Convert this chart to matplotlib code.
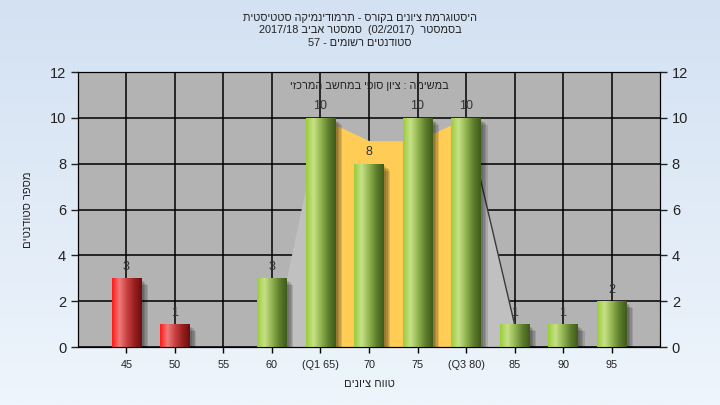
import numpy as np
import matplotlib
matplotlib.use('Agg')
import matplotlib.pyplot as plt
import matplotlib.patheffects as pe
from matplotlib.colors import LinearSegmentedColormap

plt.rcParams['font.family'] = ['Liberation Sans', 'DejaVu Sans']

# data (Hebrew strings stored in visual order, matplotlib has no bidi)
categories = ['45', '50', '55', '60', '(Q1 65)', '70', '75', '(Q3 80)', '85', '90', '95']
counts = [3, 1, 0, 3, 10, 8, 10, 10, 1, 1, 2]
passed = [False, False, False, True, True, True, True, True, True, True, True]
spread_idx = [3.3, 4, 5, 6, 7, 8]
spread_vals = [3, 10, 9, 9, 10, 1]
iqr_idx = [4, 5, 6, 7]
iqr_vals = [10, 9, 9, 10]

title_lines = [
    'תיטסיטטס הקימנידומרת - סרוקב םינויצ תמרגוטסיה',
    '2017/18 ביבא רטסמס  (02/2017)  רטסמסב',
    '57 - םימושר םיטנדוטס',
]
inner_title = 'יזכרמה בשחמב יפוס ןויצ : המישמב'
xlabel = 'םינויצ חווט'
ylabel = 'םיטנדוטס רפסמ'

green = LinearSegmentedColormap.from_list('g', ['#9ccb3b', '#c6e286', '#93b452', '#5f7f2c', '#3f5a1a'])
red = LinearSegmentedColormap.from_list('r', ['#ff1a1a', '#f07a7a', '#c84242', '#9a2020', '#6a0c0c'])


def main():
    fig = plt.figure(figsize=(7.2, 4.05), dpi=100)

    # soft blue background
    bg = fig.add_axes([0, 0, 1, 1], zorder=-10)
    bg.imshow(np.linspace(0, 1, 256).reshape(-1, 1), aspect='auto', extent=[0, 1, 0, 1],
              cmap=LinearSegmentedColormap.from_list('bg', ['#d3e1f2', '#eef5fc']))
    bg.axis('off')

    ax = fig.add_axes([0.1083, 0.1432, 0.8084, 0.679])
    ax.set_facecolor('#b3b3b3')
    x = np.arange(len(categories))

    ax.set_axisbelow(True)
    ax.grid(True, color='black', lw=1.1, zorder=0)

    ax.fill_between(spread_idx, spread_vals, color='#c0c0c0', lw=0, zorder=1)
    ax.plot(spread_idx[-2:], spread_vals[-2:], color='#3a3a3a', lw=1, zorder=1.2)
    ax.fill_between(iqr_idx, iqr_vals, color='#ffcc55', lw=0, zorder=1.5)

    shadow = [pe.SimplePatchShadow(offset=(o, -o), shadow_rgbFace='black', alpha=0.12) for o in (5, 4, 3, 2)]
    bars = ax.bar(x, counts, width=0.6, color='none', zorder=3,
                  path_effects=shadow + [pe.Normal()])
    grad = np.linspace(0, 1, 128).reshape(1, -1)
    for b, ok in zip(bars, passed):
        if b.get_height() == 0:
            continue
        im = ax.imshow(grad, cmap=green if ok else red, aspect='auto', zorder=3.5,
                       extent=[b.get_x(), b.get_x() + b.get_width(), 0, b.get_height()])
        im.set_clip_path(b)

    labels = [str(c) if c else '' for c in counts]
    ax.bar_label(bars, labels=labels, padding=4, fontsize=9, color='#333333', zorder=4)

    ax.set_xlim(-1, len(categories))
    ax.set_ylim(0, 12)
    ax.set_xticks(x)
    ax.set_xticklabels(categories, fontsize=7.8, color='#222222')
    ax.set_yticks(range(0, 13, 2))
    ax.tick_params(axis='y', labelsize=10.5, length=5, width=1, colors='#222222')
    ax.tick_params(axis='x', length=4, width=1, pad=5)
    for s in ax.spines.values():
        s.set_color('black')

    ax2 = ax.twinx()
    ax2.set_ylim(0, 12)
    ax2.set_yticks(range(0, 13, 2))
    ax2.tick_params(axis='y', labelsize=10.5, length=5, width=1, colors='#222222')

    ax.set_xlabel(xlabel, fontsize=8, color='#222222', labelpad=7)
    ax.set_ylabel(ylabel, fontsize=8, color='#222222', labelpad=12)
    ax.text(0.5, 0.95, inner_title, transform=ax.transAxes, ha='center', va='center',
            fontsize=7.8, color='#222222', zorder=5)

    fig.text(0.5, 0.968, '\n'.join(title_lines), ha='center', va='top',
             fontsize=7.8, color='#222222', linespacing=1.3)

    fig.savefig('out.png', dpi=100)


if __name__ == '__main__':
    main()
